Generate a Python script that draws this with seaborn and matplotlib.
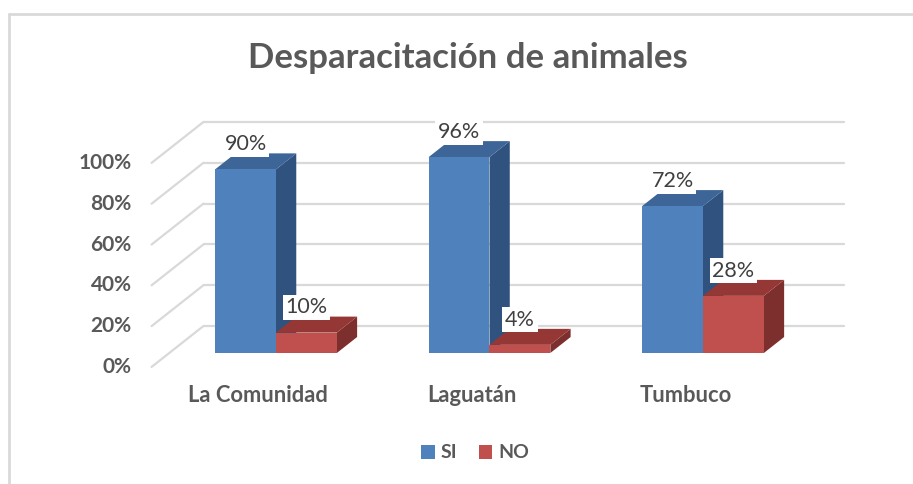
import pandas as pd
import seaborn as sns
import matplotlib.pyplot as plt
from matplotlib.patches import Polygon
from matplotlib.lines import Line2D

# datos del gráfico
comunidades = ['La Comunidad', 'Laguatán', 'Tumbuco']
respuestas = ['SI', 'NO']
si = [90, 96, 72]
no = [10, 4, 28]
marcas_y = [0, 20, 40, 60, 80, 100]

df = pd.DataFrame({
    'Comunidad': comunidades * 2,
    'Respuesta': ['SI'] * 3 + ['NO'] * 3,
    'Porcentaje': si + no,
})

sns.set_theme(style='white')
plt.rcParams['font.family'] = ['Lato', 'DejaVu Sans']

gris = '#595959'
colores = {'SI': '#4F81BD', 'NO': '#C0504D'}
lados = {'SI': '#30527F', 'NO': '#7D2F2D'}
techos = {'SI': '#3D6597', 'NO': '#953735'}
rejilla = '#D9D9D9'

fig = plt.figure(figsize=(9.13, 4.84), dpi=100)
ax = fig.add_axes([0, 0, 1, 1])

sns.barplot(data=df, x='Comunidad', y='Porcentaje', hue='Respuesta',
            hue_order=respuestas, palette=colores, saturation=1,
            width=0.57, linewidth=0, ax=ax)
handles, labels = ax.get_legend_handles_labels()
ax.get_legend().remove()

ax.set_xlim(-1.2927, 2.9836)
ax.set_ylim(-64.2, 173.0)
ax.axis('off')

# escala en pixeles para el efecto 3D
sx = 913 / (2.9836 + 1.2927)
sy = 484 / (173.0 + 64.2)
prof_x, prof_y = 52 / sx, 41 / sy   # profundidad total del "piso"
t0 = 0.34                          # posición de las barras en la profundidad
tb = 0.39                          # profundidad de las barras

# paredes: líneas de la rejilla
x_izq, x_der = -0.5, 2.5
for v in marcas_y:
    yb = v + (1 - t0) * prof_y
    xb = x_izq + (1 - t0) * prof_x
    ax.plot([xb, x_der + (1 - t0) * prof_x], [yb, yb], color=rejilla, lw=1.6, zorder=1)
    xf, yf = x_izq - t0 * prof_x, v - t0 * prof_y
    ax.plot([xf, xb], [yf, yb], color=rejilla, lw=1.6, zorder=1)
    ax.text(xf - 20 / sx, yf, f'{v}%', ha='right', va='center',
            fontsize=15, fontweight='bold', color=gris)

# caras laterales y superiores
dx, dy = tb * prof_x, tb * prof_y
for cont, resp in zip(ax.containers, respuestas):
    for p in cont:
        x0, w, h = p.get_x(), p.get_width(), p.get_height()
        x1 = x0 + w
        ax.add_patch(Polygon([(x1, 0), (x1 + dx, dy), (x1 + dx, h + dy), (x1, h)],
                             closed=True, facecolor=lados[resp], edgecolor='none', zorder=3))
        ax.add_patch(Polygon([(x0, h), (x0 + dx, h + dy), (x1 + dx, h + dy), (x1, h)],
                             closed=True, facecolor=techos[resp], edgecolor='none', zorder=3))
        p.set_zorder(4)
    ax.bar_label(cont, labels=[f'{v:g}%' for v in cont.datavalues], padding=11,
                 fontsize=15.5, color='#404040', zorder=6,
                 bbox=dict(facecolor='white', edgecolor='none', pad=2))

# etiquetas de categorías
for i, nombre in enumerate(comunidades):
    ax.text(i - t0 * prof_x, -42 / sy, nombre, ha='center', va='center',
            fontsize=15.8, fontweight='bold', color=gris)

fig.suptitle('Desparacitación de animales', x=467.5 / 913, y=1 - 58 / 484,
             va='center', fontsize=25, fontweight='bold', color=gris)

fig.legend(handles, labels, loc='center', bbox_to_anchor=(475 / 913, 1 - 453 / 484),
           ncol=2, frameon=False, handlelength=0.7, handleheight=0.7,
           handletextpad=0.3, columnspacing=1.1, labelcolor=gris,
           prop=dict(weight='bold', size=14))

# marco del área del gráfico
fig.add_artist(Line2D([9 / 913, 9 / 913], [0, 1 - 14 / 484], color=rejilla, lw=2,
                      transform=fig.transFigure))
fig.add_artist(Line2D([9 / 913, 1], [1 - 14 / 484, 1 - 14 / 484], color=rejilla, lw=2,
                      transform=fig.transFigure))

fig.savefig('out.png', dpi=100)
